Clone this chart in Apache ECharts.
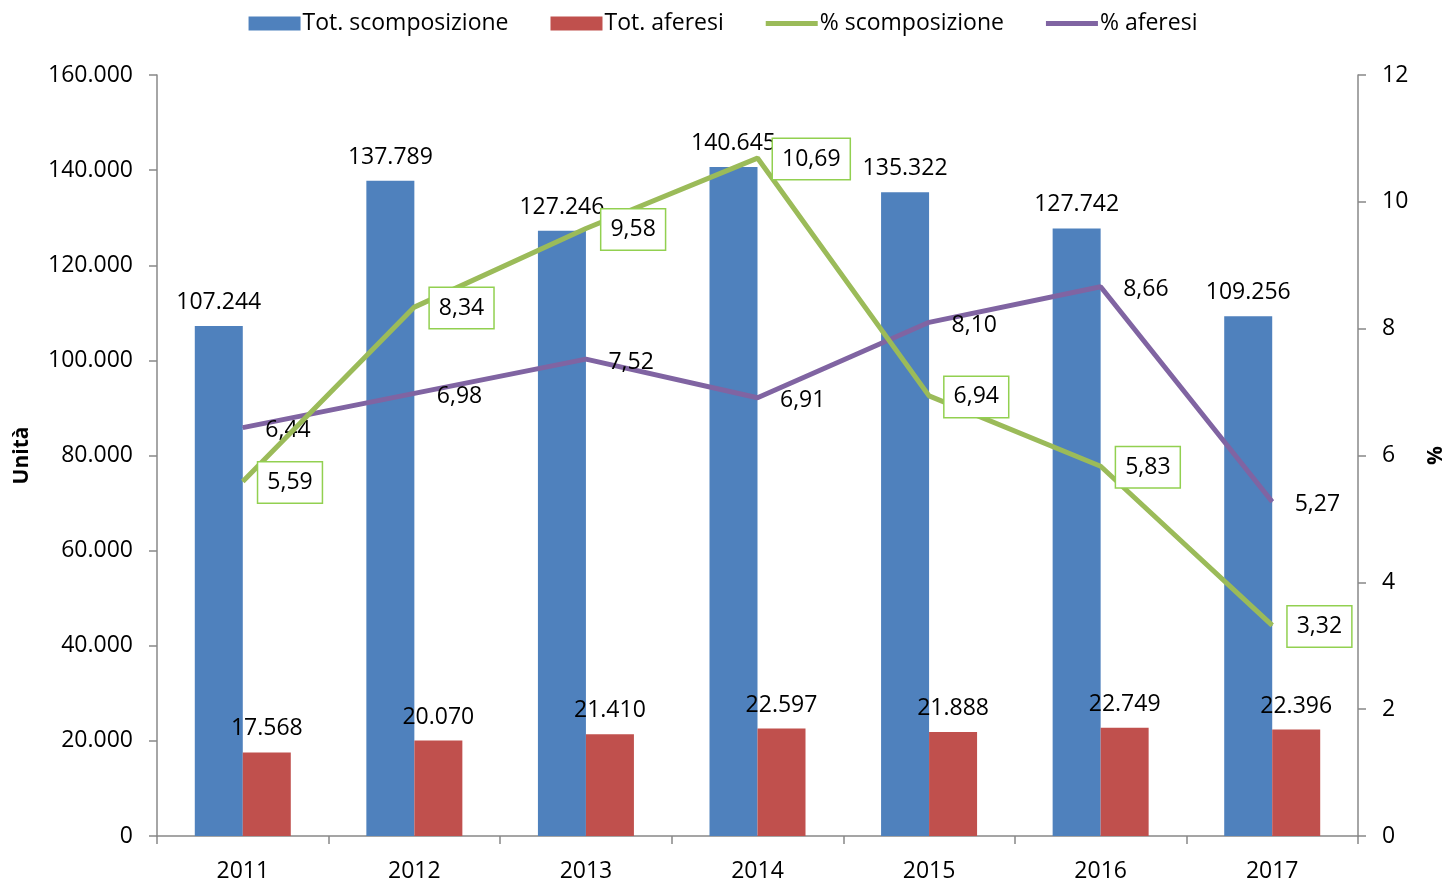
<!DOCTYPE html>
<html>
<head>
<meta charset="utf-8">
<script src="https://cdn.jsdelivr.net/npm/echarts@6/dist/echarts.min.js"></script>
<style>html,body{margin:0;padding:0;background:#fff}#c{width:1446px;height:882px}</style>
</head>
<body>
<div id="c"></div>
<script>
const categories = ['2011','2012','2013','2014','2015','2016','2017'];
const totScomposizione = [107244, 137789, 127246, 140645, 135322, 127742, 109256];
const totAferesi = [17568, 20070, 21410, 22597, 21888, 22749, 22396];
const pctScomposizione = [5.59, 8.34, 9.58, 10.69, 6.94, 5.83, 3.32];
const pctAferesi = [6.44, 6.98, 7.52, 6.91, 8.10, 8.66, 5.27];

const FONT = 'Open Sans';
const FS = 23;
const fmtThousands = v => String(v).replace(/\B(?=(\d{3})+(?!\d))/g, '.');
const fmtDec = v => v.toFixed(2).replace('.', ',');
const LINE_ICON = 'path://M0,0 M52,14 M0,4.5 L52,4.5 L52,9.5 L0,9.5 Z';

const chart = echarts.init(document.getElementById('c'));
chart.setOption({
  animation: false,
  textStyle: { fontFamily: FONT, color: '#000' },
  legend: {
    top: 7,
    left: 'center',
    itemWidth: 52,
    itemHeight: 14,
    itemGap: 42,
    textStyle: { fontFamily: FONT, fontSize: FS, color: '#000', padding: [0,0,0,-3] },
    data: [
      { name: 'Tot. scomposizione', icon: 'rect' },
      { name: 'Tot. aferesi', icon: 'rect' },
      { name: '% scomposizione', icon: LINE_ICON },
      { name: '% aferesi', icon: LINE_ICON }
    ]
  },
  grid: { left: 157, right: 88, top: 75, bottom: 46, containLabel: false, outerBoundsMode: 'none' },
  xAxis: {
    type: 'category',
    data: categories,
    axisLine: { lineStyle: { color: '#888', width: 1.5 } },
    axisTick: { show: true, length: 8, lineStyle: { color: '#888', width: 1.5 } },
    axisLabel: { fontFamily: FONT, fontSize: FS, color: '#000', margin: 24 }
  },
  yAxis: [
    {
      type: 'value', min: 0, max: 160000, interval: 20000,
      name: 'Unità', nameLocation: 'middle', nameRotate: 90, nameGap: 124,
      nameTextStyle: { fontFamily: FONT, fontSize: 21, fontWeight: 'bold', color: '#000' },
      axisLine: { show: true, lineStyle: { color: '#888', width: 1.5 } },
      axisTick: { show: true, length: 8, lineStyle: { color: '#888', width: 1.5 } },
      splitLine: { show: false },
      axisLabel: { fontFamily: FONT, fontSize: FS, color: '#000', margin: 24, formatter: v => fmtThousands(v) }
    },
    {
      type: 'value', min: 0, max: 12, interval: 2,
      name: '%', nameLocation: 'middle', nameRotate: 90, nameGap: 68,
      nameTextStyle: { fontFamily: FONT, fontSize: 21, fontWeight: 'bold', color: '#000' },
      axisLine: { show: true, lineStyle: { color: '#888', width: 1.5 } },
      axisTick: { show: true, length: 8, lineStyle: { color: '#888', width: 1.5 } },
      splitLine: { show: false },
      axisLabel: { fontFamily: FONT, fontSize: FS, color: '#000', margin: 24 }
    }
  ],
  series: [
    {
      name: 'Tot. scomposizione', type: 'bar', yAxisIndex: 0,
      data: totScomposizione, barWidth: 48, barGap: '0%',
      itemStyle: { color: '#4F81BD' },
      label: { show: true, position: 'top', distance: 12, fontFamily: FONT, fontSize: FS, color: '#000', formatter: p => fmtThousands(p.value) }
    },
    {
      name: 'Tot. aferesi', type: 'bar', yAxisIndex: 0,
      data: totAferesi, barWidth: 48, barGap: '0%',
      itemStyle: { color: '#C0504D' },
      label: { show: true, position: 'top', distance: 12, fontFamily: FONT, fontSize: FS, color: '#000', formatter: p => fmtThousands(p.value) }
    },
    {
      name: '% scomposizione', type: 'line', yAxisIndex: 1,
      data: pctScomposizione, z: 5,
      symbol: 'circle', symbolSize: 1, showSymbol: true,
      lineStyle: { color: '#9BBB59', width: 5 },
      itemStyle: { color: '#9BBB59' },
      label: {
        show: true, position: 'right', distance: 15, offset: [0, 1],
        fontFamily: FONT, fontSize: FS, color: '#000',
        backgroundColor: '#fff', borderColor: '#92D050', borderWidth: 1.5,
        padding: [9, 9, 8, 9],
        formatter: p => fmtDec(p.value)
      }
    },
    {
      name: '% aferesi', type: 'line', yAxisIndex: 1,
      data: pctAferesi, z: 4,
      symbol: 'circle', symbolSize: 1, showSymbol: true,
      lineStyle: { color: '#8064A2', width: 5 },
      itemStyle: { color: '#8064A2' },
      label: {
        show: true, position: 'right', distance: 22, offset: [0, 3],
        fontFamily: FONT, fontSize: FS, color: '#000',
        formatter: p => fmtDec(p.value)
      }
    }
  ]
});
</script>
</body>
</html>
